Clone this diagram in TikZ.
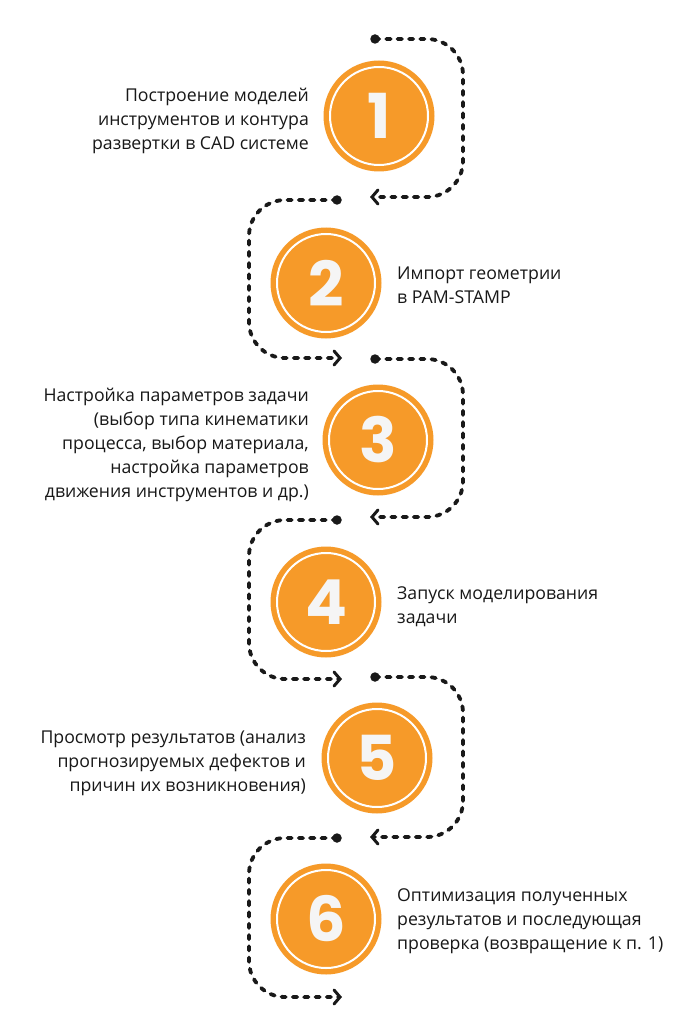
\documentclass[tikz,border=0pt]{standalone}
\usepackage{fontspec}
\setmainfont{Open Sans}
\newfontfamily\numfont{Poppins}
\usetikzlibrary{arrows.meta}
\definecolor{orng}{RGB}{246,154,41}
\definecolor{ink}{RGB}{25,25,25}
\definecolor{txt}{RGB}{24,24,24}
\definecolor{numw}{RGB}{245,245,245}
\begin{document}
\begin{tikzpicture}[x=1pt,y=-1pt,
  stepcircle/.style={circle, fill=orng, minimum size=111pt, inner sep=0pt, text=numw, font=\numfont\bfseries\fontsize{62}{62}\selectfont},
  ring/.style={draw=white, line width=2pt},
  conn/.style={draw=ink, line width=3.8pt, dash pattern=on 4.3pt off 7pt, line cap=round, rounded corners=36pt, -{Straight Barb[length=6pt,width=14pt,line width=3pt,line cap=round]}},
  startdot/.style={circle, fill=ink, inner sep=0pt, minimum size=9.5pt},
  lbl/.style={text=txt, inner sep=0pt, font=\fontsize{17.7}{24}\selectfont}]
\useasboundingbox[fill=white] (0,0) rectangle (700,1032);

% circles
\node[stepcircle] (c1) at (379,116) {1};
\node[stepcircle] (c2) at (326,283) {2};
\node[stepcircle] (c3) at (378,440) {3};
\node[stepcircle] (c4) at (326,602) {4};
\node[stepcircle] (c5) at (377,758) {5};
\node[stepcircle] (c6) at (326,919) {6};
\foreach \c in {c1,c2,c3,c4,c5,c6} \draw[ring] (\c) circle (49pt);

% connectors
\node[startdot] (d1) at (375,39) {};
\node[startdot] (d2) at (337,200) {};
\node[startdot] (d3) at (375,359) {};
\node[startdot] (d4) at (337,520) {};
\node[startdot] (d5) at (375,677) {};
\node[startdot] (d6) at (337,838) {};
\coordinate (a1) at (370,197);
\coordinate (a2) at (342,358);
\coordinate (a3) at (370,517);
\coordinate (a4) at (342,679);
\coordinate (a5) at (370,837);
\coordinate (a6) at (342,997);
\draw[conn] (d1.center) -- ++(88,0) |- (a1);
\draw[conn] (d2.center) -- ++(-88,0) |- (a2);
\draw[conn] (d3.center) -- ++(88,0) |- (a3);
\draw[conn] (d4.center) -- ++(-88,0) |- (a4);
\draw[conn] (d5.center) -- ++(88,0) |- (a5);
\draw[conn] (d6.center) -- ++(-88,0) |- (a6);

% labels
\node[lbl, align=right, anchor=east] (t1) at (309,121) {Построение моделей\\инструментов и контура\\развертки в CAD системе};
\node[lbl, align=left, anchor=west] (t2) at (397,285) {Импорт геометрии\\в PAM-STAMP};
\node[lbl, align=right, anchor=east] (t3) at (309,445) {Настройка параметров задачи\\(выбор типа кинематики\hspace*{5pt}\\процесса, выбор материала,\\настройка параметров\\движения инструментов и др.)};
\node[lbl, align=left, anchor=west] (t4) at (397,607) {Запуск моделирования\\задачи};
\node[lbl, align=right, anchor=east] (t5) at (306,763) {Просмотр результатов (анализ\\прогнозируемых дефектов и\\причин их возникновения)};
\node[lbl, align=left, anchor=west] (t6) at (397,921) {Оптимизация полученных\\результатов и последующая\\проверка (возвращение к п. 1)};
\end{tikzpicture}
\end{document}
